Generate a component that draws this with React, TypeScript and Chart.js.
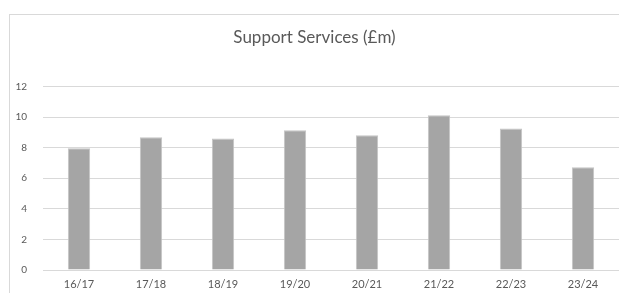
import React, { useEffect, useRef } from "react";
import { Chart, registerables } from "chart.js";

Chart.register(...registerables);

const categories = ["16/17", "17/18", "18/19", "19/20", "20/21", "21/22", "22/23", "23/24"];
const supportServices = [7.95, 8.67, 8.6, 9.13, 8.8, 10.11, 9.25, 6.72];
const chartTitle = "Support Services (£m)";

export default function App() {
  const ref = useRef<HTMLCanvasElement | null>(null);

  useEffect(() => {
    if (!ref.current) return;
    const font = "Lato, 'Open Sans', sans-serif";
    const chart = new Chart(ref.current, {
      type: "bar",
      data: {
        labels: categories,
        datasets: [
          {
            data: supportServices,
            backgroundColor: "#a5a5a5",
            borderColor: "#c4c4c4",
            borderWidth: 1,
            categoryPercentage: 1,
            barPercentage: 0.31,
          },
        ],
      },
      options: {
        animation: false,
        responsive: false,
        maintainAspectRatio: false,
        layout: { padding: { top: 0, right: 13, bottom: 0, left: 0 } },
        plugins: {
          legend: { display: false },
          tooltip: { enabled: false },
          title: {
            display: true,
            text: chartTitle,
            color: "#595959",
            font: { family: font, size: 17, weight: "normal" },
            padding: { top: 12, bottom: 39 },
          },
        },
        scales: {
          x: {
            grid: { display: false, drawTicks: false },
            border: { display: true, color: "#d9d9d9", width: 1 },
            ticks: {
              color: "#595959",
              font: { family: font, size: 11 },
              padding: 8,
              maxRotation: 0,
            },
            afterFit: (s: any) => {
              s.height = 45;
            },
          },
          y: {
            min: 0,
            max: 12,
            grid: { color: "#d9d9d9", drawTicks: false },
            border: { display: false },
            ticks: {
              stepSize: 2,
              color: "#595959",
              font: { family: font, size: 10 },
              padding: 16,
            },
            afterFit: (s: any) => {
              s.width = 33;
            },
          },
        },
      },
    });
    return () => chart.destroy();
  }, []);

  return (
    <div
      style={{
        position: "fixed",
        left: 0,
        top: 0,
        width: 619,
        height: 293,
        overflow: "hidden",
        background: "#ffffff",
      }}
    >
      <div
        style={{
          position: "absolute",
          left: 9,
          top: 14,
          width: 622,
          height: 300,
          border: "1px solid #d9d9d9",
          background: "#ffffff",
        }}
      >
        <canvas ref={ref} width={622} height={300} style={{ display: "block", width: 622, height: 300 }} />
      </div>
    </div>
  );
}
